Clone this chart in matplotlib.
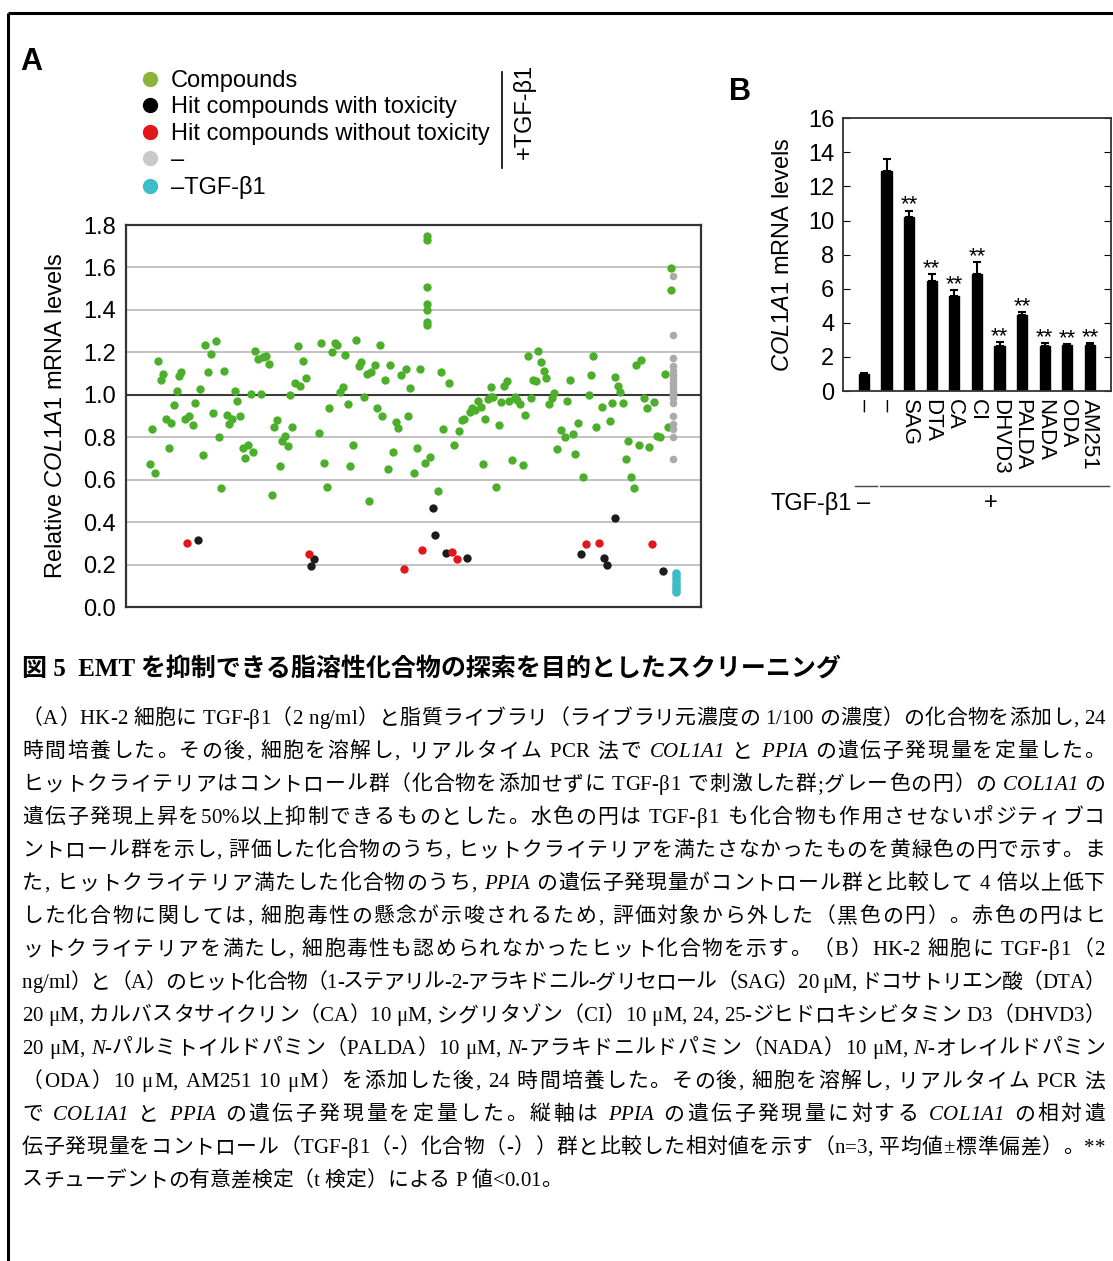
import numpy as np
import matplotlib
matplotlib.use('Agg')
import matplotlib.pyplot as plt
from matplotlib.lines import Line2D
from matplotlib import font_manager
from matplotlib.font_manager import FontProperties
from matplotlib.ft2font import FT2Font
from matplotlib.transforms import blended_transform_factory

W, H, DPI = 1113, 1261, 100

# ==== Panel A: screening (x = compound order) ====
green_x = [12.0, 14.7, 13.2, 16.0, 17.4, 18.7, 20.0, 21.4, 22.7, 24.0, 25.4, 26.5, 27.7, 29.4,
           31.7, 33.4, 34.7, 37.0, 38.7, 39.7, 41.0, 42.4, 43.7, 45.0, 46.4, 47.7, 49.0, 50.4,
           51.7, 53.0, 54.4, 55.7, 57.0, 58.4, 59.7, 61.0, 62.4, 63.7, 64.7, 66.0, 67.4, 68.4,
           70.0, 71.5, 72.9, 74.2, 75.5, 76.9, 78.2, 79.5, 80.9, 81.9, 83.2, 84.5, 85.9, 87.2,
           88.5, 89.9, 96.4, 97.7, 99.0, 100.4, 101.7, 103.2, 104.5, 105.7, 107.0, 108.4, 109.7,
           110.9, 112.2, 113.5, 115.0, 116.4, 117.7, 119.0, 120.4, 121.7, 122.5, 124.4, 125.5,
           126.9, 128.2, 129.5, 130.9, 132.2, 133.5, 134.9, 136.2, 137.4, 139.9, 140.9, 142.0,
           144.0, 145.5, 146.9, 149.4, 150.7, 150.7, 150.7, 150.7, 150.7, 150.7, 150.7, 152.0,
           156.0, 157.4, 158.7, 161.4, 164.0, 166.5, 167.9, 169.2, 171.9, 173.2, 174.7, 176.0,
           177.4, 178.4, 179.7, 181.0, 182.4, 182.4, 183.7, 185.0, 186.4, 187.7, 189.0, 190.4,
           191.7, 193.0, 194.4, 195.7, 197.0, 198.4, 199.7, 200.9, 202.4, 203.5, 204.9, 206.0,
           207.5, 208.9, 210.2, 211.5, 212.9, 214.2, 215.4, 217.5, 219.4, 220.7, 222.0, 223.4,
           224.7, 226.0, 228.5, 231.4, 232.7, 233.7, 235.0, 237.9, 241.9, 243.2, 244.5, 245.9,
           247.2, 248.4, 249.9, 251.0, 252.4, 253.9, 255.0, 256.4, 257.7, 259.0, 260.4, 261.5,
           264.2, 265.5, 267.0, 269.5, 271.0, 272.4, 272.4]
green_y = [0.674, 0.630, 0.837, 1.159, 1.070, 1.098, 0.886, 0.751, 0.866, 0.953, 1.016, 1.089, 1.107, 0.886,
           0.902, 0.858, 0.963, 1.027, 0.716, 1.233, 1.106, 1.191, 0.913, 1.254, 0.800, 0.562, 1.112, 0.906,
           0.862, 0.886, 1.019, 0.972, 0.901, 0.751, 0.701, 0.765, 1.004, 0.729, 1.205, 1.167, 1.004, 1.180,
           1.184, 1.144, 0.526, 0.847, 0.883, 0.663, 0.781, 0.806, 0.757, 0.998, 0.848, 1.057, 1.230, 1.041,
           1.159, 1.078, 0.818, 1.243, 0.680, 0.567, 0.936, 1.200, 1.243, 1.235, 1.015, 1.038, 1.188,
           0.957, 0.666, 0.765, 1.258, 1.136, 1.155, 0.991, 1.098, 0.501, 1.106, 1.140, 0.936,
           1.233, 0.899, 1.070, 0.649, 1.140, 0.729, 0.872, 0.842, 1.093, 1.120, 0.901, 1.031,
           0.630, 0.751, 1.121, 0.677, 1.750, 1.730, 1.509, 1.426, 1.398, 1.342, 1.329, 0.705,
           0.548, 1.107, 0.839, 1.054, 0.762, 0.828, 0.881, 0.885, 0.917, 0.936, 0.928, 0.971,
           0.944, 0.675, 0.888, 0.979, 0.991, 1.038, 0.991, 0.567, 0.858, 0.968, 1.043, 1.065,
           0.971, 0.693, 0.991, 0.976, 0.955, 0.671, 0.906, 1.184, 0.983, 1.070, 1.066, 1.205,
           1.156, 1.112, 1.081, 0.957, 0.983, 1.010, 0.745, 0.835, 0.803, 0.972, 1.070, 0.814,
           0.721, 0.866, 0.614, 1.000, 1.093, 1.184, 0.850, 0.944, 0.877, 0.963, 1.085, 1.043,
           1.015, 0.960, 0.699, 0.784, 0.614, 0.561, 1.139, 0.763, 1.164, 0.985, 0.939, 0.755,
           0.968, 0.806, 0.803, 1.097, 0.850, 1.598, 1.494]

red_x = [30.7, 91.4, 138.8, 148.2, 162.9, 165.4, 230.0, 236.5, 262.9]
red_y = [0.300, 0.251, 0.178, 0.269, 0.261, 0.225, 0.295, 0.300, 0.295]

black_x = [35.9, 92.5, 94.0, 153.4, 154.7, 160.0, 170.5, 227.4, 239.0, 240.5, 244.7, 268.4]
black_y = [0.316, 0.195, 0.225, 0.465, 0.338, 0.256, 0.229, 0.248, 0.229, 0.198, 0.418, 0.170]

gray_y = [1.56, 1.28, 1.175, 1.136, 1.114, 1.093, 1.078, 1.061, 1.046, 1.030, 1.014, 0.999,
          0.983, 0.963, 0.902, 0.86, 0.837, 0.80, 0.696]
gray_x = [273.7] * len(gray_y)
cyan_y = [0.16, 0.145, 0.13, 0.115, 0.10, 0.085, 0.07]
cyan_x = [275.0] * len(cyan_y)

legend_labels = ['Compounds', 'Hit compounds with toxicity', 'Hit compounds without toxicity',
                 '–', '–TGF-β1']

# ==== Panel B: qPCR ====
b_labels = ['–', '–', 'SAG', 'DTA', 'CA', 'CI', 'DHVD3', 'PALDA', 'NADA', 'ODA', 'AM251']
b_values = [1.0, 12.9, 10.2, 6.45, 5.55, 6.85, 2.65, 4.48, 2.62, 2.68, 2.7]
b_err = [0.08, 0.7, 0.38, 0.42, 0.37, 0.7, 0.2, 0.17, 0.2, 0.06, 0.1]
b_sig = ['', '', '**', '**', '**', '**', '**', '**', '**', '**', '**']

# ==== caption ({...} = italic) ====
cap_title = '図 5  EMT を抑制できる脂溶性化合物の探索を目的としたスクリーニング'
cap_lines = [
    '（A）HK-2 細胞に TGF-β1（2 ng/ml）と脂質ライブラリ（ライブラリ元濃度の 1/100 の濃度）の化合物を添加し, 24',
    '時間培養した。その後, 細胞を溶解し, リアルタイム PCR 法で {COL1A1} と {PPIA} の遺伝子発現量を定量した。',
    'ヒットクライテリアはコントロール群（化合物を添加せずに TGF-β1 で刺激した群;グレー色の円）の {COL1A1} の',
    '遺伝子発現上昇を50%以上抑制できるものとした。水色の円は TGF-β1 も化合物も作用させないポジティブコ',
    'ントロール群を示し, 評価した化合物のうち, ヒットクライテリアを満たさなかったものを黄緑色の円で示す。ま',
    'た, ヒットクライテリア満たした化合物のうち, {PPIA} の遺伝子発現量がコントロール群と比較して 4 倍以上低下',
    'した化合物に関しては, 細胞毒性の懸念が示唆されるため, 評価対象から外した（黒色の円）。赤色の円はヒ',
    'ットクライテリアを満たし, 細胞毒性も認められなかったヒット化合物を示す。（B）HK-2 細胞に TGF-β1（2',
    'ng/ml）と（A）のヒット化合物（1-ステアリル-2-アラキドニル-グリセロール（SAG）20 μM, ドコサトリエン酸（DTA）',
    '20 μM, カルバスタサイクリン（CA）10 μM, シグリタゾン（CI）10 μM, 24, 25-ジヒドロキシビタミン D3（DHVD3）',
    '20 μM, {N}-パルミトイルドパミン（PALDA）10 μM, {N}-アラキドニルドパミン（NADA）10 μM, {N}-オレイルドパミン',
    '（ODA）10 μM, AM251 10 μM）を添加した後, 24 時間培養した。その後, 細胞を溶解し, リアルタイム PCR 法',
    'で {COL1A1} と {PPIA} の遺伝子発現量を定量した。縦軸は {PPIA} の遺伝子発現量に対する {COL1A1} の相対遺',
    '伝子発現量をコントロール（TGF-β1（-）化合物（-））群と比較した相対値を示す（n=3, 平均値±標準偏差）。**',
    'スチューデントの有意差検定（t 検定）による P 値<0.01。',
]

plt.rcParams['font.family'] = ['Liberation Sans', 'DejaVu Sans']
plt.rcParams['mathtext.fontset'] = 'custom'
plt.rcParams['mathtext.rm'] = 'Liberation Sans'
plt.rcParams['mathtext.it'] = 'Liberation Sans:italic'

FS = 17
BODY_FS = 15
SERIF = FontProperties(family='Liberation Serif', size=BODY_FS)
SERIF_IT = FontProperties(family='Liberation Serif', style='italic', size=BODY_FS)
CJK = FontProperties(family='Noto Sans CJK JP', size=BODY_FS)

_ft = {}
def ft_font(prop):
    path = font_manager.findfont(prop)
    if path not in _ft:
        f = FT2Font(path)
        f.set_size(BODY_FS, DPI)
        _ft[path] = f
    return _ft[path]


def draw_line(ax, line, x0, y, width=None):
    # place glyph by glyph so the line can be justified like the original
    chars = []
    italic = False
    for c in line:
        if c == '{':
            italic = True
            continue
        if c == '}':
            italic = False
            continue
        prop = SERIF_IT if italic else SERIF
        f = ft_font(prop)
        if f.get_char_index(ord(c)) == 0:
            prop = CJK
            f = ft_font(prop)
        g = f.load_char(ord(c))
        chars.append((c, prop, g.linearHoriAdvance / 65536))
    natural = sum(a for _, _, a in chars)
    word = lambda ch: ch.isascii() and not ch.isspace()
    stretch = [not (word(chars[i][0]) and word(chars[i + 1][0])) for i in range(len(chars) - 1)]
    extra = 0.0
    if width is not None and sum(stretch):
        extra = (width - natural) / sum(stretch)
    x = x0
    for i, (c, prop, adv) in enumerate(chars):
        if not c.isspace():
            ax.text(x, y, c, fontproperties=prop, ha='left', va='baseline')
        x += adv
        if i < len(stretch) and stretch[i]:
            x += extra


def px_box(left, top, right, bottom):
    return [left / W, 1 - bottom / H, (right - left) / W, (bottom - top) / H]


fig = plt.figure(figsize=(W / DPI, H / DPI), dpi=DPI)
fig.patch.set_facecolor('white')

# pixel-space overlay for frame, labels and caption
axc = fig.add_axes([0, 0, 1, 1])
axc.set_xlim(0, W)
axc.set_ylim(H, 0)
axc.axis('off')
axc.plot([8, W], [13, 13], color='black', lw=2.2, solid_capstyle='butt')
axc.plot([8, 8], [13, H], color='black', lw=2.2, solid_capstyle='butt')
axc.text(20, 70, 'A', fontsize=22, fontweight='bold', va='baseline')
axc.text(729, 100, 'B', fontsize=22, fontweight='bold', va='baseline')
axc.plot([502, 502], [72, 168], color='black', lw=1.2)
axc.text(524, 111, '+TGF-β1', rotation=90, ha='center', va='center', fontsize=FS)

axc.text(22, 677, cap_title, fontsize=18, fontweight='bold', va='baseline',
         family=['Liberation Serif', 'Noto Sans CJK JP'])
for i, line in enumerate(cap_lines):
    last = i == len(cap_lines) - 1
    draw_line(axc, line, 22, 724 + 33 * i, None if last else 1083)

# ==== Panel A ====
ax = fig.add_axes(px_box(126, 225, 701, 607))
ax.set_xlim(0, 287.5)
ax.set_ylim(0, 1.8)
yt = np.round(np.arange(0, 1.81, 0.2), 1)
ax.set_yticks(yt)
ax.set_yticklabels([f'{v:.1f}' for v in yt])
for v in yt[1:-1]:
    if abs(v - 1.0) < 1e-9:
        ax.axhline(v, color='#3a3a3a', lw=1.5, zorder=1)
    else:
        ax.axhline(v, color='#bdbdbd', lw=1.3, zorder=1)
ax.set_xticks([])
ax.tick_params(axis='y', length=0, pad=7, labelsize=FS)
for s in ax.spines.values():
    s.set_color('#333333')
    s.set_linewidth(1.6)
ax.set_ylabel(r'Relative $\mathit{COL1A1}$ mRNA levels', fontsize=FS, va='center')
ax.yaxis.set_label_coords(-0.122, 0.5)

ax.scatter(green_x, green_y, s=36, color='#4caf2b', linewidths=0, zorder=3)
ax.scatter(gray_x, gray_y, s=30, color='#ababab', linewidths=0, zorder=4)
ax.scatter(cyan_x, cyan_y, s=38, color='#3dbdc6', linewidths=0, zorder=4)
ax.scatter(black_x, black_y, s=36, color='#1c1c1c', linewidths=0, zorder=5)
ax.scatter(red_x, red_y, s=36, color='#e3161c', linewidths=0, zorder=5)

handle_cols = ['#8cb43a', '#000000', '#e3161c', '#c9c9c9', '#3dbdc6']
handles = [Line2D([], [], ls='', marker='o', markersize=10, color=c) for c in handle_cols]
fig.legend(handles, legend_labels, loc='upper left', bbox_to_anchor=(141 / W, 1 - 70 / H),
           frameon=False, fontsize=FS, borderpad=0, borderaxespad=0, handlelength=0.8,
           handletextpad=0.45, labelspacing=0.19)

# ==== Panel B ====
bx = fig.add_axes(px_box(842.7, 118.3, 1110.7, 391))
pos = np.arange(len(b_values))
bx.bar(pos, b_values, width=0.45, color='black', edgecolor='black', zorder=2)
bx.errorbar(pos, b_values, yerr=[np.zeros(len(b_err)), b_err], fmt='none', ecolor='black',
            elinewidth=1.5, capsize=3, capthick=1.5, zorder=3)
for p, v, e, sg in zip(pos, b_values, b_err, b_sig):
    if sg:
        bx.annotate(sg, (p, v + e), xytext=(0, 4), textcoords='offset points',
                    ha='center', va='center', fontsize=16)
bx.set_xlim(-0.94, 10.92)
bx.set_ylim(0, 16)
bx.set_yticks(range(0, 17, 2))
bx.set_xticks(pos)
bx.set_xticklabels(b_labels, rotation=-90, fontsize=16)
bx.tick_params(axis='x', length=0, pad=6)
bx.tick_params(axis='y', direction='in', length=5, right=True, labelsize=FS, pad=6)
for s in bx.spines.values():
    s.set_color('#333333')
    s.set_linewidth(1.3)
bx.set_ylabel(r'$\mathit{COL1A1}$ mRNA levels', fontsize=FS, va='center')
bx.yaxis.set_label_coords(-0.223, 0.5)

tr = blended_transform_factory(bx.transData, bx.transAxes)
bx.plot([-0.40, 0.57], [-0.348, -0.348], transform=tr, clip_on=False, color='#444444', lw=1)
bx.plot([0.69, 10.85], [-0.348, -0.348], transform=tr, clip_on=False, color='#444444', lw=1)
bx.text(-0.55, -0.411, 'TGF-β1', transform=tr, ha='right', va='center', fontsize=FS)
bx.text(0.0, -0.411, '–', transform=tr, ha='center', va='center', fontsize=FS)
bx.text(5.6, -0.411, '+', transform=tr, ha='center', va='center', fontsize=FS)

fig.savefig('out.png', dpi=DPI)
